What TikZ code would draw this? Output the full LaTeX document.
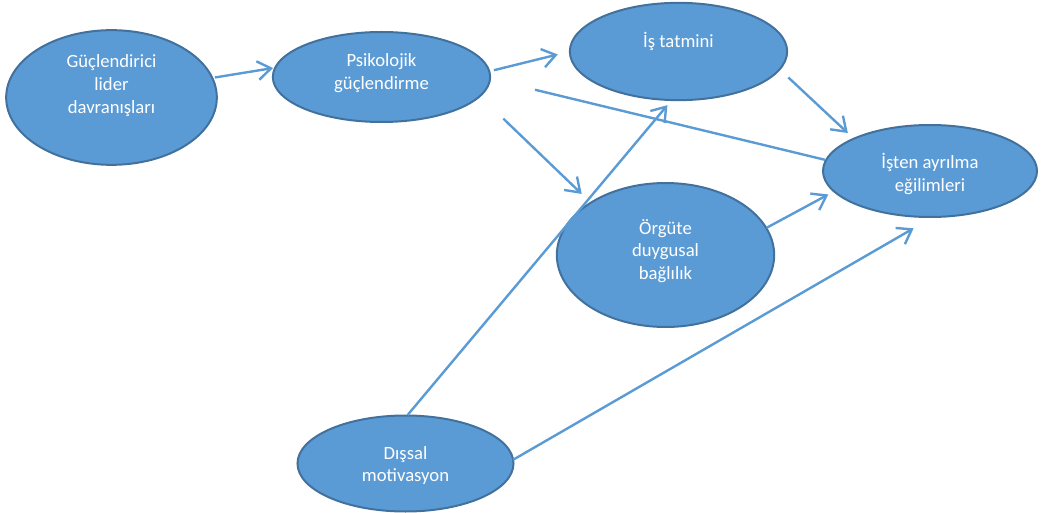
\documentclass[tikz,border=0pt]{standalone}
\usepackage{fontspec}
\setmainfont{Carlito}
\usetikzlibrary{arrows.meta,shapes.geometric}

\definecolor{boxblue}{HTML}{5B9BD5}
\definecolor{rimblue}{HTML}{41719C}

\tikzset{
  bubble/.style={ellipse, draw=rimblue, fill=boxblue, line width=1.5pt, inner sep=0pt, outer sep=0pt},
  txt/.style={text=white, align=center, font=\fontsize{14}{17}\selectfont},
  line/.style={draw=boxblue, line width=1.8pt},
  link/.style={line, -{Straight Barb[length=10pt,width=14pt]}},
}

\begin{document}
\begin{tikzpicture}[x=0.75pt, y=-0.75pt]
  \useasboundingbox (0,0) rectangle (1041,513);

  % ellipses
  \node[bubble, minimum width=158pt, minimum height=101pt] (gld) at (111.5,97.5) {};
  \node[bubble, minimum width=163pt, minimum height=67.5pt] (pg) at (381.5,77) {};
  \node[bubble, minimum width=163pt, minimum height=73pt] (ist) at (678.5,51.5) {};
  \node[bubble, minimum width=160.5pt, minimum height=69pt] (iae) at (930,171) {};
  \node[bubble, minimum width=163pt, minimum height=108pt] (oda) at (665.5,255) {};
  \node[bubble, minimum width=162pt, minimum height=72pt] (dm) at (405.5,463.5) {};

  % texts
  \node[txt] (gld-t) at ([yshift=9pt]gld.center) {Güçlendirici\\lider\\davranışları};
  \node[txt] (pg-t) at ([yshift=3pt]pg.center) {Psikolojik\\güçlendirme};
  \node[txt] (ist-t) at ([yshift=7.5pt]ist.center) {İş tatmini};
  \node[txt] (iae-t) at ([yshift=-2.2pt]iae.center) {İşten ayrılma\\eğilimleri};
  \node[txt] (oda-t) at ([yshift=3pt]oda.center) {Örgüte\\duygusal\\bağlılık};
  \node[txt] (dm-t) at ([yshift=-1.5pt]dm.center) {Dışsal\\motivasyon};

  % arrows
  \draw[link, shorten <=2pt, shorten >=1.6pt] (gld.11) -- (pg.175);
  \draw[link, shorten <=3.6pt, shorten >=9.3pt] (pg.3) -- (ist.180);
  \draw[line, shorten <=34.7pt, shorten >=0.75pt] (pg.-1) -- (iae.174);
  \draw[link, shorten <=24.4pt, shorten >=9.5pt] (pg.-11) -- (oda.145);
  \draw[link, shorten <=0.5pt, shorten >=5pt] (dm.88) -- (ist.-98);
  \draw[link, shorten <=9pt, shorten >=6.2pt] (ist.-10) -- (iae.157);
  \draw[link, shorten <=0.3pt, shorten >=4.9pt] (oda.15) -- (iae.192);
  \draw[link, shorten >=17pt] (dm.2) -- (iae.-86);

\end{tikzpicture}
\end{document}
